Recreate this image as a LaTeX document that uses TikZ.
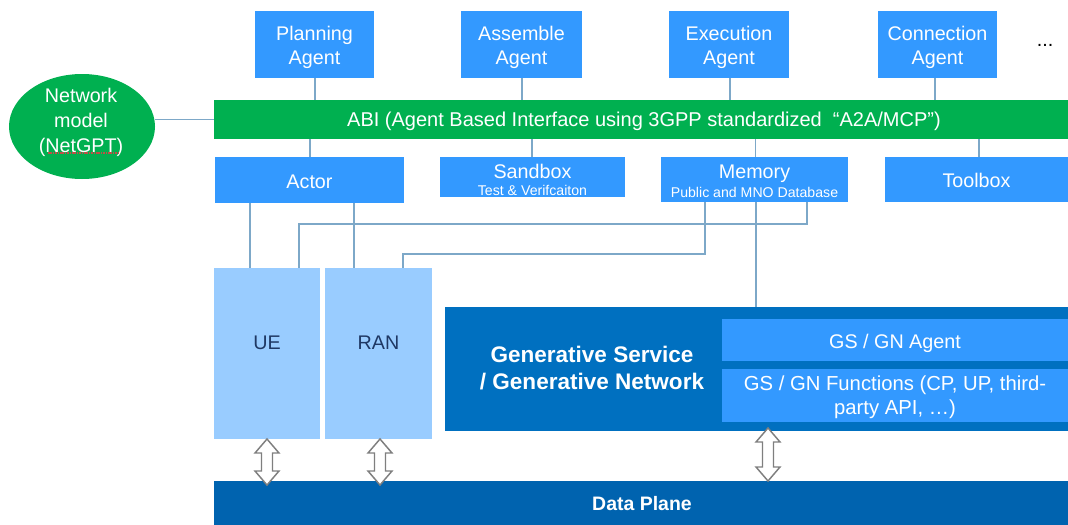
\documentclass[tikz,border=0pt]{standalone}
\usepackage{fontspec}
\setmainfont{Liberation Sans}
\usetikzlibrary{fit,shapes.geometric}

\definecolor{agentblue}{HTML}{3399FF}
\definecolor{abigreen}{HTML}{00B050}
\definecolor{uelight}{HTML}{99CCFF}
\definecolor{gsblue}{HTML}{0070C0}
\definecolor{dpblue}{HTML}{0063AF}
\definecolor{linec}{RGB}{125,168,200}
\definecolor{navytext}{HTML}{1F3864}
\definecolor{arrowgray}{HTML}{7F7F7F}
\definecolor{spellred}{RGB}{190,80,70}

\newcommand\blockarrow[3]{%
  \draw[blockarr] (#1,#2) -- ++(12,14) -- ++(-6.5,0) -- (#1+5.5,#3-14) -- ++(6.5,0)
    -- (#1,#3) -- ++(-12,-14) -- ++(6.5,0) -- (#1-5.5,#2+14) -- ++(-6.5,0) -- cycle;}

\begin{document}
\begin{tikzpicture}[x=0.75pt,y=-0.75pt,
  fnt/.style={font=\fontsize{14.8}{18}\selectfont},
  box/.style={fill=agentblue, draw=none, inner sep=0pt, text=white, align=center, fnt},
  bar/.style={fill=abigreen, draw=none, inner sep=0pt, text=white, fnt},
  uebox/.style={fill=uelight, draw=none, inner sep=0pt, text=navytext, fnt},
  conn/.style={draw=linec, line width=0.8pt},
  blockarr/.style={draw=arrowgray, fill=white, line width=1.1pt, line join=miter}]

\useasboundingbox (0,0) rectangle (1068,525);

% agents
\node[box, fit={(255,11)(374,78)}] (plan) {};
\node[box] at ([yshift=-2.2pt]plan.center) {Planning\\Agent};
\node[box, fit={(461,11)(582,78)}] (asm) {};
\node[box] at ([yshift=-2.2pt]asm.center) {Assemble\\Agent};
\node[box, fit={(669,11)(789,78)}] (exe) {};
\node[box] at ([yshift=-2.2pt]exe.center) {Execution\\Agent};
\node[box, fit={(878,11)(997,78)}] (con) {};
\node[box] at ([yshift=-2.2pt]con.center) {Connection\\Agent};
\node[fnt] (dots) at (1045,45) {...};

% ABI bar
\node[bar, fit={(214,100)(1068,139)}] (abi) {};
\node[text=white, font=\fontsize{15}{18}\selectfont] (abitext) at (644,121.5) {ABI (Agent Based Interface using 3GPP standardized \ “A2A/MCP”)};

% network model
\node[ellipse, fill=abigreen, minimum width=146*0.75pt, minimum height=105*0.75pt, inner sep=0pt] (ell) at (82,126.5) {};
\node[text=white, align=center, font=\fontsize{14.8}{19}\selectfont] (elltext) at (81,122.5)
  {Network\\model\\(NetGPT)};
\draw[spellred, line width=0.9pt, dash pattern=on 1.2pt off 0.6pt] (48,153) -- (118,153);

% lower row
\node[box, fit={(215,157)(404,203)}] (actor) {};
\node[box] at ([yshift=-1.5pt]actor.center) {Actor};
\node[box, fit={(440,157)(625,197)}] (sand) {};
\node[box, align=center] at ([yshift=-2pt]sand.center) {Sandbox\\[-5pt]{\fontsize{10.6}{12}\selectfont Test \& Verifcaiton}};
\node[box, fit={(661,157)(848,202)}] (mem) {};
\node[box, align=center] at ([yshift=-1.5pt]mem.center) {Memory\\[-4pt]{\fontsize{10.6}{12}\selectfont Public and MNO Database}};
\node[box, fit={(885,157)(1068,202)}] (tool) {};
\node[box] at ([yshift=-0.5pt]tool.center) {Toolbox};

% UE / RAN
\node[uebox, fit={(214,268)(320,439)}] (ue) {};
\node[uebox] at (267,342.5) {UE};
\node[uebox, fit={(325,268)(432,439)}] (ran) {};
\node[uebox] at (378.5,342.5) {RAN};

% GS block
\node[fill=gsblue, inner sep=0pt, fit={(445,307)(1068,431)}] (gs) {};
\node[text=white, align=center, font=\bfseries\fontsize{16.9}{20.25}\selectfont] (gstext) at (592,368.5)
  {Generative Service\\/ Generative Network};
\node[box, fit={(722,319)(1068,361)}] (gsa) {};
\node[box] at ([yshift=-2.5pt]gsa.center) {GS / GN Agent};
\node[box, fit={(722,369)(1068,422)}] (gsf) {};
\node[box, align=center, font=\fontsize{15.2}{18}\selectfont] at ([yshift=-1.5pt]gsf.center) {GS / GN Functions (CP, UP, third-\\party API, …)};

% data plane
\node[fill=dpblue, inner sep=0pt, fit={(214,481)(1068,525)}] (dp) {};
\node[text=white, font=\bfseries\fontsize{14.6}{17}\selectfont] at (642,503.5) {Data Plane};

% connectors
\draw[conn] (ell.east |- abi.west) -- (abi.west);
\draw[conn] (plan.south -| 315,0) -- (abi.north -| 315,0);
\draw[conn] (asm.south -| 522,0) -- (abi.north -| 522,0);
\draw[conn] (exe.south -| 730,0) -- (abi.north -| 730,0);
\draw[conn] (con.south -| 935,0) -- (abi.north -| 935,0);
\draw[conn] (abi.south -| 310,0) -- (actor.north -| 310,0);
\draw[conn] (abi.south -| 532,0) -- (sand.north -| 532,0);
\draw[conn] (abi.south -| 755.5,0) -- (mem.north -| 755.5,0);
\draw[conn] (abi.south -| 979,0) -- (tool.north -| 979,0);
\draw[conn] (actor.south -| 250,0) -- (ue.north -| 250,0);
\draw[conn] (actor.south -| 354,0) -- (ran.north -| 354,0);
\draw[conn] (mem.south -| 705,0) -- (705,254) -- (403,254) -- (ran.north -| 403,0);
\draw[conn] (mem.south -| 807,0) -- (807,224) -- (299,224) -- (ue.north -| 299,0);
\draw[conn] (mem.south -| 756,0) -- (gs.north -| 756,0);

% block arrows
\blockarrow{267}{439}{485}
\blockarrow{380}{439}{485}
\blockarrow{768}{428}{481}

\end{tikzpicture}
\end{document}
